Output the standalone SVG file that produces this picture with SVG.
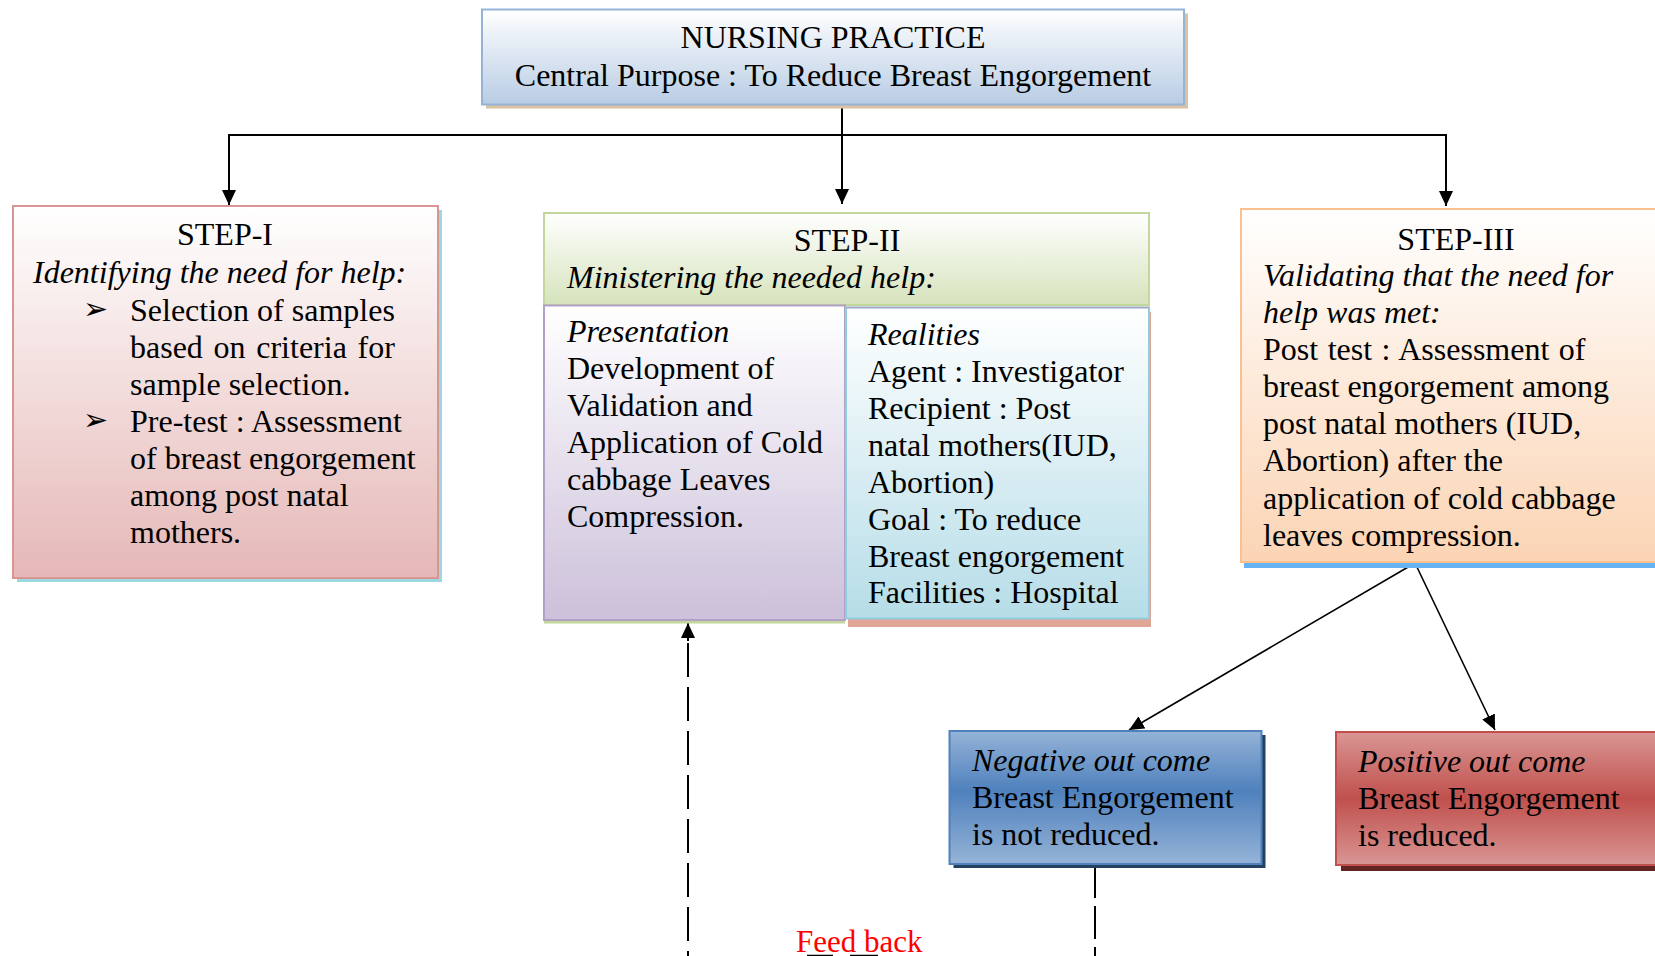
<svg xmlns="http://www.w3.org/2000/svg" width="1655" height="956" viewBox="0 0 1655 956">
<defs>
<style>
.t{font-family:"Liberation Serif","Times New Roman",serif;font-size:32px;fill:#000}
.i{font-style:italic}
.m{text-anchor:middle}
.b{font-family:"DejaVu Sans",sans-serif;font-size:30px;fill:#000}
.con{stroke:#000;stroke-width:2;fill:none}
.thin{stroke:#000;stroke-width:1.6;fill:none}
.dash{stroke:#000;stroke-width:2;fill:none}
</style>
<marker id="arr" viewBox="0 0 15 14" refX="15" refY="7" markerWidth="15" markerHeight="14" markerUnits="userSpaceOnUse" orient="auto">
<path d="M0,0 L15,7 L0,14 z" fill="#000"/>
</marker>
<linearGradient id="gTop" x1="0" y1="0" x2="0" y2="1"><stop offset="0" stop-color="#FFFFFF"/><stop offset="1" stop-color="#B8CCE4"/></linearGradient>
<linearGradient id="g1" x1="0" y1="0" x2="0" y2="1"><stop offset="0" stop-color="#FFFFFF"/><stop offset="1" stop-color="#E5B8B7"/></linearGradient>
<linearGradient id="g2" x1="0" y1="0" x2="0" y2="1"><stop offset="0" stop-color="#FFFFFF"/><stop offset="1" stop-color="#D6E3BC"/></linearGradient>
<linearGradient id="gP" x1="0" y1="0" x2="0" y2="1"><stop offset="0" stop-color="#FFFFFF"/><stop offset="1" stop-color="#CCC0DA"/></linearGradient>
<linearGradient id="gR" x1="0" y1="0" x2="0" y2="1"><stop offset="0" stop-color="#FFFFFF"/><stop offset="1" stop-color="#B6DDE8"/></linearGradient>
<linearGradient id="g3" x1="0" y1="0" x2="0" y2="1"><stop offset="0" stop-color="#FFFFFF"/><stop offset="1" stop-color="#FBD4B4"/></linearGradient>
<linearGradient id="gN" x1="0" y1="0" x2="0" y2="1"><stop offset="0" stop-color="#95B3D7"/><stop offset="0.45" stop-color="#4F81BD"/><stop offset="1" stop-color="#95B3D7"/></linearGradient>
<linearGradient id="gPo" x1="0" y1="0" x2="0" y2="1"><stop offset="0" stop-color="#D99694"/><stop offset="0.5" stop-color="#C0504D"/><stop offset="1" stop-color="#D99694"/></linearGradient>
</defs>

<g id="connectors">
<line class="con" x1="229" y1="135" x2="1447" y2="135"/>
<line class="con" x1="229" y1="134" x2="229" y2="205" marker-end="url(#arr)"/>
<line class="con" x1="1446" y1="134" x2="1446" y2="206" marker-end="url(#arr)"/>
<line class="con" x1="842" y1="105" x2="842" y2="204" marker-end="url(#arr)"/>
<line class="thin" x1="1415" y1="563" x2="1129" y2="730" marker-end="url(#arr)"/>
<line class="thin" x1="1415" y1="563" x2="1495" y2="730" marker-end="url(#arr)"/>
<line class="dash" x1="688" y1="643" x2="688" y2="956" stroke-dasharray="34 10"/>
<line class="con" x1="688" y1="641" x2="688" y2="623" marker-end="url(#arr)"/>
<line class="dash" x1="1095" y1="865" x2="1095" y2="956" stroke-dasharray="33 8"/>
</g>

<g id="nursing-practice">
<rect x="486" y="13.5" width="702" height="95" fill="#D9C3A3"/>
<rect x="482" y="9.5" width="702" height="95" fill="url(#gTop)" stroke="#95B3D7" stroke-width="2"/>
<text class="t m" x="833" y="48">NURSING PRACTICE</text>
<text class="t m" x="833" y="86">Central Purpose : To Reduce Breast Engorgement</text>
</g>

<g id="step1">
<rect x="17" y="210" width="425" height="372" fill="#9CD8DF"/>
<rect x="13" y="206" width="425" height="372" fill="url(#g1)" stroke="#D99594" stroke-width="2"/>
<text class="t m" x="225" y="245">STEP-I</text>
<text class="t i" x="33" y="283">Identifying the need for help:</text>
<text class="b" x="83" y="319">➢</text>
<text class="t" x="130" y="320.5">Selection of samples</text>
<text class="t" x="130" y="357.5" word-spacing="2.7">based on criteria for</text>
<text class="t" x="130" y="394.5">sample selection.</text>
<text class="b" x="83" y="430">➢</text>
<text class="t" x="130" y="431.5">Pre-test : Assessment</text>
<text class="t" x="130" y="468.5">of breast engorgement</text>
<text class="t" x="130" y="505.5">among post natal</text>
<text class="t" x="130" y="542.5">mothers.</text>
</g>

<g id="step2">
<rect x="544" y="213" width="605" height="92" fill="url(#g2)" stroke="#C3D69B" stroke-width="2"/>
<text class="t m" x="847" y="251">STEP-II</text>
<text class="t i" x="567" y="288">Ministering the needed help:</text>
</g>

<g id="presentation">
<rect x="544" y="308" width="301" height="315.5" fill="#C3D69B"/>
<rect x="544" y="305.5" width="301" height="314.5" fill="url(#gP)" stroke="#B2A1C7" stroke-width="2"/>
<text class="t i" x="567" y="341.5">Presentation</text>
<text class="t" x="567" y="378.5">Development of</text>
<text class="t" x="567" y="415.5">Validation and</text>
<text class="t" x="567" y="452.5">Application of Cold</text>
<text class="t" x="567" y="489.5">cabbage Leaves</text>
<text class="t" x="567" y="526.5">Compression.</text>
</g>

<g id="realities">
<rect x="848" y="312" width="303" height="315" fill="#E0A596"/>
<rect x="846" y="307.5" width="303" height="311" fill="url(#gR)" stroke="#92CDDC" stroke-width="2"/>
<line x1="846" y1="307.5" x2="1149" y2="307.5" stroke="#B2A1C7" stroke-width="1.5"/>
<text class="t i" x="868" y="345">Realities</text>
<text class="t" x="868" y="382">Agent : Investigator</text>
<text class="t" x="868" y="419">Recipient : Post</text>
<text class="t" x="868" y="456">natal mothers(IUD,</text>
<text class="t" x="868" y="493">Abortion)</text>
<text class="t" x="868" y="530">Goal : To reduce</text>
<text class="t" x="868" y="567">Breast engorgement</text>
<text class="t" x="868" y="603">Facilities : Hospital</text>
</g>

<g id="step3">
<rect x="1244" y="214" width="430" height="354" fill="#66B2F2"/>
<rect x="1241" y="209" width="430" height="353" fill="url(#g3)" stroke="#FAC090" stroke-width="2"/>
<text class="t m" x="1456" y="249.5">STEP-III</text>
<text class="t i" x="1263" y="286">Validating that the need for</text>
<text class="t i" x="1263" y="323">help was met:</text>
<text class="t" x="1263" y="359.5" word-spacing="1.5">Post test : Assessment of</text>
<text class="t" x="1263" y="396.5">breast engorgement among</text>
<text class="t" x="1263" y="433.5">post natal mothers (IUD,</text>
<text class="t" x="1263" y="470.5">Abortion) after the</text>
<text class="t" x="1263" y="508.5">application of cold cabbage</text>
<text class="t" x="1263" y="545.5">leaves compression.</text>
</g>

<g id="negative">
<rect x="953.5" y="735" width="312" height="133" fill="#254061"/>
<rect x="949.5" y="731" width="312" height="133" fill="url(#gN)" stroke="#4F81BD" stroke-width="2"/>
<text class="t i" x="972" y="771">Negative out come</text>
<text class="t" x="972" y="808">Breast Engorgement</text>
<text class="t" x="972" y="845">is not reduced.</text>
</g>

<g id="positive">
<rect x="1341" y="737" width="330" height="134" fill="#632523"/>
<rect x="1336" y="732" width="330" height="133" fill="url(#gPo)" stroke="#C0504D" stroke-width="2"/>
<text class="t i" x="1358" y="772">Positive out come</text>
<text class="t" x="1358" y="809">Breast Engorgement</text>
<text class="t" x="1358" y="846">is reduced.</text>
</g>

<g id="feedback">
<text class="t" x="796" y="952" style="fill:#FF0000;font-size:31px">Feed back</text>
<line x1="807" y1="955.5" x2="833" y2="955.5" stroke="#000" stroke-width="1.5"/>
<line x1="850" y1="955.5" x2="878" y2="955.5" stroke="#000" stroke-width="1.5"/>
</g>
</svg>
